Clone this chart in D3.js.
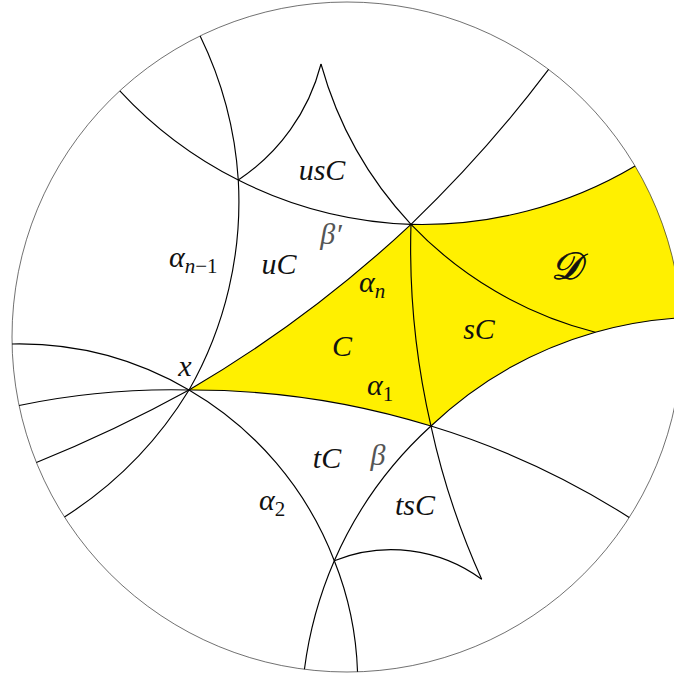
<!DOCTYPE html>
<html>
<head>
<meta charset="utf-8">
<script src="https://cdn.jsdelivr.net/npm/d3@7"></script>
<style>
  body { margin: 0; background: #fff; }
  svg { display: block; }
  .lbl { font-family: "Liberation Serif", "DejaVu Serif", serif; font-style: italic; font-size: 30px; fill: #111; }
</style>
</head>
<body>
<svg width="674" height="676"></svg>
<script>
// vertices inside the unit disk
var vertexNames = ["X", "A", "B", "P", "U", "Q", "T", "R"];
var vertexU = [-0.4716, 0.1910, 0.2507, -0.3245, -0.0776, -0.0379, 0.4021, 0.7412];
var vertexV = [-0.1582, 0.3364, -0.2657, 0.4687, 0.8149, -0.6678, -0.7233, 0.0143];

// ideal points on the boundary, in degrees
var idealNames = ["e1", "e2", "e3", "e4", "e5", "e6", "e7", "e8", "e9", "e10", "e11", "eR"];
var idealAngles = [181.2, 271.8, 191.8, 327.4, 202.0, 53.0, 212.5, 116.0, 132.7, 30.7, 262.7, 3.3];

// geodesics, each one a chain of points drawn piece by piece
var geodesics = [
    ["e1", "X", "Q", "e2"],
    ["e3", "X", "B", "e4"],
    ["e5", "X", "A", "e6"],
    ["e7", "X", "P", "e8"],
    ["e9", "P", "A", "e10"],
    ["eR", "R", "B", "Q", "e11"],
    ["A", "B", "T"],
    ["P", "U"],
    ["A", "U"],
    ["A", "R"],
    ["Q", "T"]
];

// the shaded region C + sC + D
var regionLoop = ["X", "A", "e10", "eR", "R", "B", "X"];

// sub: list of [text, italic]
var labels = [
    { t: "usC", x: 322, y: 180 },
    { t: "β′", x: 331, y: 244, grey: true },
    { t: "α", sub: [["n", true], ["−1", false]], x: 169, y: 267, anchor: "start" },
    { t: "uC", x: 279, y: 274 },
    { t: "α", sub: [["n", true]], x: 359, y: 292, anchor: "start" },
    { t: "C", x: 342, y: 356 },
    { t: "𝒟", x: 566, y: 279, big: true },
    { t: "sC", x: 479, y: 339 },
    { t: "x", x: 185, y: 376 },
    { t: "α", sub: [["1", false]], x: 367, y: 395, anchor: "start" },
    { t: "tC", x: 327, y: 468 },
    { t: "β", x: 378, y: 465, grey: true },
    { t: "α", sub: [["2", false]], x: 259, y: 510, anchor: "start" },
    { t: "tsC", x: 415, y: 515 }
];

var svg = d3.select("svg");
var cx = 347, cy = 337, R = 335;

var sx = d3.scaleLinear().domain([-1, 1]).range([cx - R, cx + R]);
var sy = d3.scaleLinear().domain([-1, 1]).range([cy + R, cy - R]);
var unit = sx(1) - sx(0);

var pts = {};
vertexNames.forEach(function(n, i) { pts[n] = { u: vertexU[i], v: vertexV[i] }; });
idealNames.forEach(function(n, i) {
    var a = idealAngles[i] * Math.PI / 180;
    pts[n] = { u: Math.cos(a), v: Math.sin(a), ideal: true };
});

// circle orthogonal to the unit circle through p and q
function geoCircle(p, q) {
    var k1 = (1 + p.u * p.u + p.v * p.v) / 2;
    var k2 = (1 + q.u * q.u + q.v * q.v) / 2;
    var det = p.u * q.v - p.v * q.u;
    if (Math.abs(det) < 1e-9) return null;
    var a = (k1 * q.v - k2 * p.v) / det;
    var b = (p.u * k2 - q.u * k1) / det;
    return { u: a, v: b, r: Math.sqrt(a * a + b * b - 1) };
}

// svg arc command from screen point p0 to p1 around screen centre c
function arcTo(p0, p1, c, r) {
    var dx = p1[0] - p0[0], dy = p1[1] - p0[1];
    var cross = dx * (c[1] - p0[1]) - dy * (c[0] - p0[0]);
    var sweep = cross > 0 ? 1 : 0;
    return "A" + r + "," + r + " 0 0," + sweep + " " + p1[0] + "," + p1[1];
}

function scr(p) { return [sx(p.u), sy(p.v)]; }

function geoSeg(a, b) {
    var p = pts[a], q = pts[b];
    var c = geoCircle(p, q);
    if (!c) return "L" + scr(q).join(",");
    return arcTo(scr(p), scr(q), [sx(c.u), sy(c.v)], c.r * unit);
}

// shaded region
var d = "M" + scr(pts[regionLoop[0]]).join(",");
for (var i = 1; i < regionLoop.length; i++) {
    var a = regionLoop[i - 1], b = regionLoop[i];
    if (pts[a].ideal && pts[b].ideal) {
        d += arcTo(scr(pts[a]), scr(pts[b]), [cx, cy], R);
    } else {
        d += geoSeg(a, b);
    }
}
d += "Z";
svg.append("path").attr("d", d).attr("fill", "#fff000").attr("stroke", "none");

// boundary circle
svg.append("circle")
    .attr("cx", sx(0)).attr("cy", sy(0)).attr("r", unit)
    .attr("fill", "none").attr("stroke", "#333").attr("stroke-width", 0.7);

// geodesic pieces
geodesics.forEach(function(chain) {
    var path = "M" + scr(pts[chain[0]]).join(",");
    for (var i = 1; i < chain.length; i++) path += geoSeg(chain[i - 1], chain[i]);
    svg.append("path").attr("d", path)
        .attr("fill", "none").attr("stroke", "#000").attr("stroke-width", 1.15);
});

// labels
labels.forEach(function(l) {
    var t = svg.append("text").attr("class", "lbl")
        .attr("x", l.x).attr("y", l.y)
        .attr("text-anchor", l.anchor || "middle")
        .style("fill", l.grey ? "#555" : null)
        .style("font-size", l.big ? "38px" : null)
        .style("stroke", l.big ? "#111" : null)
        .style("stroke-width", l.big ? 0.8 : null)
        .text(l.t);
    if (l.sub) {
        l.sub.forEach(function(s, j) {
            t.append("tspan").attr("dy", j === 0 ? 6 : 0)
                .style("font-size", "21px")
                .style("font-style", s[1] ? "italic" : "normal")
                .text(s[0]);
        });
    }
});
</script>
</body>
</html>
